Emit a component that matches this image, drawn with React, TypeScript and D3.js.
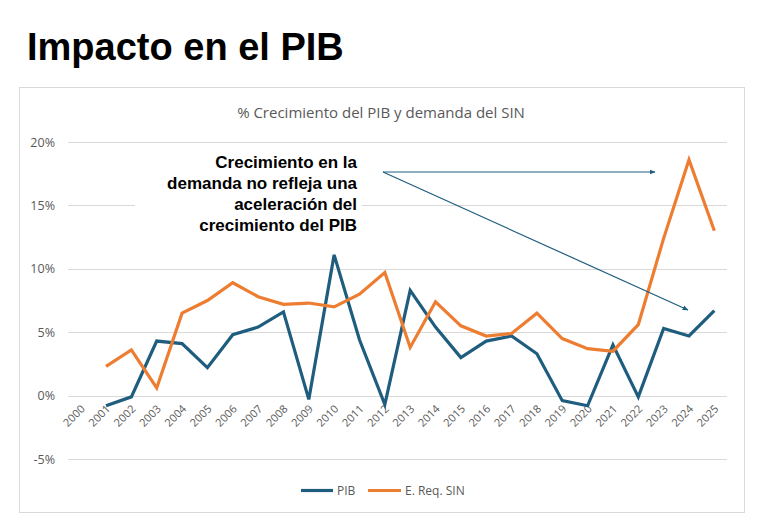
import React from "react";
import * as d3 from "d3";

// Yearly growth (%), 2000–2025; null where there is no value
const years: string[] = [
  "2000", "2001", "2002", "2003", "2004", "2005", "2006", "2007", "2008",
  "2009", "2010", "2011", "2012", "2013", "2014", "2015", "2016", "2017",
  "2018", "2019", "2020", "2021", "2022", "2023", "2024", "2025",
];

const pib: (number | null)[] = [
  null, -0.8, -0.1, 4.3, 4.1, 2.2, 4.8, 5.4, 6.6, -0.3, 11.1, 4.4, -0.7,
  8.3, 5.4, 3.0, 4.3, 4.7, 3.3, -0.4, -0.8, 4.0, -0.1, 5.3, 4.7, 6.7,
];

const demanda: (number | null)[] = [
  null, 2.3, 3.6, 0.6, 6.5, 7.5, 8.9, 7.8, 7.2, 7.3, 7.0, 8.0, 9.7,
  3.8, 7.4, 5.5, 4.7, 4.9, 6.5, 4.5, 3.7, 3.5, 5.6, 12.4, 18.6, 13.0,
];

const yTicks: number[] = [-5, 0, 5, 10, 15, 20];

const noteLines: string[] = [
  "Crecimiento en la",
  "demanda no refleja una",
  "aceleración del",
  "crecimiento del PIB",
];

const BLUE = "#1f5d7e";
const ORANGE = "#ED7D31";
const GRID = "#d9d9d9";
const LABEL = "#595959";
const SANS = "'Liberation Sans', Arial, sans-serif";
const LIGHT = "'Open Sans', 'Noto Sans', sans-serif";

export default function App() {
  const width = 770;
  const height = 514;
  const plot = { left: 68, right: 727, top: 142, bottom: 459 };

  const x = d3
    .scaleBand<string>()
    .domain(years)
    .range([plot.left, plot.right]);
  const y = d3.scaleLinear().domain([-5, 20]).range([plot.bottom, plot.top]);
  const cx = (yr: string) => (x(yr) ?? 0) + x.bandwidth() / 2;

  const line = d3
    .line<number | null>()
    .defined((d) => d !== null)
    .x((_, i) => cx(years[i]))
    .y((d) => y(d as number));

  return (
    <svg
      width={width}
      height={height}
      style={{ position: "absolute", left: 0, top: 0, background: "#fff" }}
    >
      <defs>
        <marker
          id="arrowHead"
          viewBox="0 0 10 10"
          refX="9"
          refY="5"
          markerWidth="6"
          markerHeight="6"
          orient="auto-start-reverse"
          markerUnits="userSpaceOnUse"
        >
          <path d="M0,1 L10,5 L0,9 Z" fill={BLUE} />
        </marker>
      </defs>

      <text
        x={27}
        y={60}
        fontFamily={SANS}
        fontWeight="bold"
        fontSize={38}
        fill="#000"
      >
        Impacto en el PIB
      </text>

      <rect
        x={19.5}
        y={87.5}
        width={725}
        height={425}
        fill="#fff"
        stroke={GRID}
        strokeWidth={1}
      />

      <text
        x={381}
        y={118}
        textAnchor="middle"
        fontFamily={LIGHT}
        fontSize={15}
        fill={LABEL}
      >
        % Crecimiento del PIB y demanda del SIN
      </text>

      {/* gridlines and y-axis labels */}
      {yTicks.map((t) => (
        <g key={t}>
          <line
            x1={plot.left}
            x2={plot.right}
            y1={Math.round(y(t)) + 0.5}
            y2={Math.round(y(t)) + 0.5}
            stroke={GRID}
            strokeWidth={1}
          />
          <text
            x={55}
            y={y(t) + 4.5}
            textAnchor="end"
            fontFamily={LIGHT}
            fontSize={12.5}
            fill={LABEL}
          >
            {t}%
          </text>
        </g>
      ))}

      {/* x-axis category labels */}
      {years.map((yr) => (
        <text
          key={yr}
          transform={`translate(${cx(yr) + 5},${y(0) + 14}) rotate(-45)`}
          textAnchor="end"
          fontFamily={LIGHT}
          fontSize={11}
          fill={LABEL}
        >
          {yr}
        </text>
      ))}

      {/* annotation box */}
      <rect x={135} y={149} width={227} height={84} fill="#fff" />
      {noteLines.map((s, i) => (
        <text
          key={s}
          x={357}
          y={168 + i * 21}
          textAnchor="end"
          fontFamily={SANS}
          fontWeight="bold"
          fontSize={17}
          fill="#000"
        >
          {s}
        </text>
      ))}

      {/* series */}
      <path
        d={line(pib) ?? ""}
        fill="none"
        stroke={BLUE}
        strokeWidth={3.2}
        strokeLinejoin="miter"
      />
      <path
        d={line(demanda) ?? ""}
        fill="none"
        stroke={ORANGE}
        strokeWidth={3.2}
        strokeLinejoin="miter"
      />

      {/* arrows */}
      <line
        x1={383}
        y1={172}
        x2={655}
        y2={172}
        stroke={BLUE}
        strokeWidth={1.2}
        markerEnd="url(#arrowHead)"
      />
      <line
        x1={383}
        y1={172}
        x2={688}
        y2={310}
        stroke={BLUE}
        strokeWidth={1.2}
        markerEnd="url(#arrowHead)"
      />

      {/* legend */}
      <line x1={301} x2={333} y1={490.5} y2={490.5} stroke={BLUE} strokeWidth={3.2} />
      <text x={337} y={495} fontFamily={LIGHT} fontSize={12} fill={LABEL}>
        PIB
      </text>
      <line x1={368} x2={401} y1={490.5} y2={490.5} stroke={ORANGE} strokeWidth={3.2} />
      <text x={405} y={495} fontFamily={LIGHT} fontSize={12} fill={LABEL}>
        E. Req. SIN
      </text>
    </svg>
  );
}
